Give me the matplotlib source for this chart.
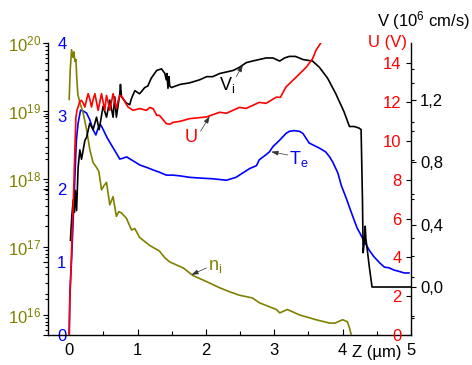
import numpy as np
import matplotlib
matplotlib.use('Agg')
import matplotlib.pyplot as plt
from matplotlib.ticker import FixedLocator, NullFormatter, LogLocator

plt.rcParams['font.family'] = ['Liberation Sans', 'DejaVu Sans']
plt.rcParams['mathtext.fontset'] = 'custom'
plt.rcParams['mathtext.rm'] = 'Liberation Sans'
plt.rcParams['mathtext.it'] = 'Liberation Sans:italic'
plt.rcParams['font.size'] = 12

OLIVE = '#808000'
BLUE = '#0000ff'
RED = '#ff0000'
BLACK = '#000000'

# ---- electron temperature Te (left inner axis, 0..4) ----
te_z = [0.0, 0.01, 0.035, 0.06, 0.076, 0.105, 0.13, 0.166, 0.205, 0.254, 0.30, 0.35,
        0.39, 0.425, 0.46, 0.50, 0.55, 0.594, 0.69, 0.74, 0.78, 0.84, 0.91, 0.98,
        1.03, 1.15, 1.23, 1.32, 1.42, 1.52, 1.62, 1.76, 1.91, 2.10, 2.30, 2.44,
        2.54, 2.64, 2.74, 2.78, 2.88, 2.93, 2.98, 3.08, 3.17, 3.22, 3.29, 3.37,
        3.42, 3.51, 3.66, 3.75, 3.81, 3.86, 3.93, 3.98, 4.05, 4.15, 4.21, 4.29,
        4.39, 4.46, 4.54, 4.61, 4.68, 4.75, 4.83, 4.90, 4.97]
te_val = [0.0, 0.58, 1.03, 1.62, 1.99, 2.67, 2.90, 3.08, 3.07, 3.04, 2.95, 2.81,
          2.74, 2.84, 2.88, 2.81, 2.71, 2.64, 2.49, 2.41, 2.42, 2.44, 2.40, 2.36,
          2.33, 2.29, 2.26, 2.23, 2.19, 2.19, 2.18, 2.16, 2.15, 2.14, 2.12, 2.16,
          2.22, 2.28, 2.32, 2.40, 2.47, 2.51, 2.58, 2.67, 2.76, 2.79, 2.80, 2.79,
          2.76, 2.63, 2.56, 2.51, 2.44, 2.36, 2.22, 2.05, 1.88, 1.62, 1.47, 1.33,
          1.16, 1.07, 0.99, 0.93, 0.92, 0.89, 0.87, 0.85, 0.85]

# ---- ion density ni (left outer log axis), stored as log10(ni) ----
ni_z = [0.0, 0.015, 0.035, 0.054, 0.069, 0.083, 0.098, 0.112, 0.127, 0.166, 0.20,
        0.254, 0.302, 0.35, 0.40, 0.434, 0.473, 0.507, 0.546, 0.594, 0.642, 0.69,
        0.726, 0.765, 0.838, 0.911, 0.96, 1.03, 1.18, 1.32, 1.40, 1.47, 1.67, 1.81,
        2.01, 2.20, 2.35, 2.49, 2.68, 2.78, 2.93, 3.03, 3.08, 3.19, 3.37, 3.61,
        3.81, 3.89, 4.00, 4.07, 4.10, 4.13]
ni_log10 = [19.17, 19.61, 19.90, 19.79, 19.87, 19.73, 19.76, 19.46, 19.24, 19.09,
            18.99, 18.73, 18.43, 18.24, 18.17, 18.11, 17.84, 17.90, 17.95, 17.62,
            17.74, 17.45, 17.52, 17.50, 17.42, 17.25, 17.27, 17.14, 17.02, 16.94,
            16.84, 16.78, 16.69, 16.58, 16.49, 16.40, 16.34, 16.29, 16.25, 16.18,
            16.12, 16.08, 16.03, 16.08, 16.00, 15.93, 15.88, 15.88, 15.93, 15.90,
            15.81, 15.69]

# ---- potential U (right inner axis, volts) ----
u_z = [0.0, 0.01, 0.035, 0.069, 0.083, 0.098, 0.115, 0.131, 0.155, 0.18, 0.205,
       0.229, 0.253, 0.277, 0.302, 0.327, 0.351, 0.375, 0.40, 0.423, 0.448, 0.473,
       0.497, 0.521, 0.534, 0.546, 0.57, 0.594, 0.618, 0.642, 0.666, 0.69, 0.715,
       0.74, 0.765, 0.788, 0.825, 0.861,
       0.934, 1.03, 1.13, 1.18, 1.23, 1.28, 1.32, 1.42, 1.47, 1.52, 1.62, 1.76,
       2.01, 2.20, 2.30, 2.49, 2.59, 2.78, 2.88, 3.03, 3.09, 3.17, 3.32, 3.47,
       3.56, 3.61, 3.68]
u_val = [0.0, 1.8, 4.37, 7.82, 9.52, 11.2, 11.6, 11.75, 12.05, 12.09, 11.95,
         11.75, 12.1, 12.44, 12.15, 11.75, 12.15, 12.44, 12.0, 11.58, 12.0, 12.44,
         12.0, 11.58, 12.0, 12.35, 12.0, 11.58, 12.0, 12.44, 12.05, 11.67, 12.05,
         12.35, 12.3, 12.20, 11.95, 11.75,
         11.58, 11.67, 11.58, 11.73, 11.66, 11.32, 11.32, 10.90, 10.86,
         10.96, 11.01, 11.15, 11.24, 11.48, 11.43, 11.73, 11.68, 11.99, 11.94,
         12.26, 12.25, 12.78, 13.29, 13.81, 14.24, 14.67, 15.05]

# ---- ion velocity Vi (right outer axis, 10^6 cm/s) ----
v_z = [0.018, 0.039, 0.06, 0.076, 0.09, 0.108, 0.131, 0.156, 0.18, 0.205, 0.229,
       0.254, 0.30, 0.35, 0.40, 0.438, 0.496, 0.546, 0.594, 0.642, 0.667, 0.69,
       0.74, 0.75, 0.765, 0.838, 0.886, 0.911, 0.96, 1.03, 1.105, 1.15, 1.20,
       1.28, 1.35, 1.40, 1.42, 1.43, 1.445, 1.46, 1.47, 1.495, 1.62, 1.76, 1.91,
       2.01, 2.10, 2.20, 2.30, 2.40, 2.49, 2.59, 2.68, 2.78, 2.88, 2.98, 3.08,
       3.15, 3.22, 3.31, 3.42, 3.56, 3.66, 3.78, 3.90, 4.02, 4.10, 4.17, 4.24,
       4.27, 4.29, 4.30, 4.32, 4.33, 4.34, 4.36, 4.39, 4.43, 4.99]
v_val = [0.30, 0.46, 0.56, 0.48, 0.62, 0.49, 0.77, 0.88, 0.82, 0.88, 0.94, 0.96,
         1.05, 1.01, 1.09, 1.01, 1.16, 1.09, 1.20, 1.09, 1.22, 1.09, 1.24, 1.30,
         1.22, 1.18, 1.17, 1.21, 1.26, 1.24, 1.28, 1.29, 1.34, 1.39, 1.40, 1.37,
         1.33, 1.37, 1.275, 1.35, 1.29, 1.28, 1.30, 1.31, 1.33, 1.35, 1.35, 1.37,
         1.38, 1.39, 1.41, 1.44, 1.45, 1.46, 1.47, 1.47, 1.45, 1.47, 1.48, 1.48,
         1.46, 1.45, 1.41, 1.34, 1.24, 1.125, 1.03, 1.03, 1.02, 1.01, 0.56, 0.22,
         0.30, 0.39, 0.31, 0.24, 0.13, 0.0, 0.0]

# ---- axis ticks ----
z_ticks = [0, 1, 2, 3, 4, 5]
z_labels = ['0', '1', '2', '3', '4', '5']
te_ticks = [0, 1, 2, 3, 4]
te_labels = ['0', '1', '2', '3', '4']
ni_ticks = [1e16, 1e17, 1e18, 1e19, 1e20]
ni_labels = [r'$\mathregular{10^{16}}$', r'$\mathregular{10^{17}}$',
             r'$\mathregular{10^{18}}$', r'$\mathregular{10^{19}}$',
             r'$\mathregular{10^{20}}$']
u_ticks = [0, 2, 4, 6, 8, 10, 12, 14]
u_labels = ['0', '2', '4', '6', '8', '10', '12', '14']
v_ticks = [0.0, 0.4, 0.8, 1.2]
v_labels = ['0,0', '0,4', '0,8', '1,2']

W, H = 472, 365
fig = plt.figure(figsize=(W / 100, H / 100), dpi=100)
L, R, B, T = 48, 411, 335, 43
axT = fig.add_axes([L / W, 1 - B / H, (R - L) / W, (B - T) / H])
axN = axT.twinx()
axV = axT.twinx()
axU = axT.twinx()

for a in (axN, axV, axU):
    for s in a.spines.values():
        s.set_visible(False)
axT.spines['top'].set_visible(False)
for s in ('left', 'right', 'bottom'):
    axT.spines[s].set_linewidth(1.0)

LW = 1.2
axT.plot(te_z, te_val, color=BLUE, lw=LW)
axN.plot(ni_z, 10 ** np.array(ni_log10), color=OLIVE, lw=LW)
axV.plot(v_z, v_val, color=BLACK, lw=LW)
axU.plot(u_z, u_val, color=RED, lw=LW)

# x axis
axT.set_xlim(-0.31, 5.0)
axT.xaxis.set_major_locator(FixedLocator(z_ticks))
axT.set_xticklabels(z_labels)
axT.xaxis.set_minor_locator(FixedLocator([0.5, 1.5, 2.5, 3.5, 4.5]))
axT.tick_params(axis='x', which='major', direction='in', length=4.5, width=0.8, pad=6)
axT.tick_params(axis='x', which='minor', direction='in', length=3, width=0.8)

# Te axis: labels inside the frame
axT.set_ylim(0, 4)
axT.yaxis.set_major_locator(FixedLocator(te_ticks))
axT.set_yticklabels(te_labels)
axT.yaxis.set_minor_locator(FixedLocator([0.5, 1.5, 2.5, 3.5]))
axT.tick_params(axis='y', which='major', direction='out', length=3.6, width=0.8,
                pad=-10.2, labelcolor=BLUE)
axT.tick_params(axis='y', which='minor', direction='out', length=2.4, width=0.8)
for lab in axT.get_yticklabels():
    lab.set_horizontalalignment('left')

# ni axis (log), on the left spine
axN.set_yscale('log')
axN.set_ylim(10 ** 15.705, 1e20)
axN.yaxis.set_ticks_position('left')
axN.yaxis.set_label_position('left')
axN.yaxis.set_major_locator(FixedLocator(ni_ticks))
axN.set_yticklabels(ni_labels)
axN.yaxis.set_minor_locator(LogLocator(base=10, subs=np.arange(2, 10)))
axN.yaxis.set_minor_formatter(NullFormatter())
axN.tick_params(axis='y', which='major', direction='out', length=3.6, width=0.8,
                pad=1.5, labelcolor=OLIVE)
axN.tick_params(axis='y', which='minor', direction='out', length=2.2, width=0.8)

# U axis: labels inside the frame on the right
axU.set_ylim(0, 15.05)
axU.yaxis.set_major_locator(FixedLocator(u_ticks))
axU.set_yticklabels(u_labels)
axU.yaxis.set_minor_locator(FixedLocator([1, 3, 5, 7, 9, 11, 13]))
axU.tick_params(axis='y', which='major', direction='in', length=3.6, width=0.8,
                pad=-6.8, labelcolor=RED)
axU.tick_params(axis='y', which='minor', direction='out', length=2.4, width=0.8)
for lab in axU.get_yticklabels():
    lab.set_horizontalalignment('right')

# V axis: labels outside on the right
axV.set_ylim(-0.308, 1.566)
axV.yaxis.set_major_locator(FixedLocator(v_ticks))
axV.set_yticklabels(v_labels)
axV.yaxis.set_minor_locator(FixedLocator([-0.2, 0.2, 0.6, 1.0, 1.4]))
axV.tick_params(axis='y', which='major', direction='out', length=3.6, width=0.8, pad=3)
axV.tick_params(axis='y', which='minor', direction='out', length=2.4, width=0.8)

# axis titles
fig.text(470 / W, 1 - 21 / H, r'V (10$^{\mathregular{6}}$ cm/s)', ha='right', va='center')
fig.text(407 / W, 1 - 42.5 / H, 'U (V)', ha='right', va='center', color=RED)
fig.text(402 / W, 1 - 353 / H, 'Z (µm)', ha='right', va='center')

# curve labels with pointer arrows
arrow = dict(arrowstyle='-|>,head_length=0.35,head_width=0.12', color='#333333',
             lw=0.5, shrinkA=0, shrinkB=0)
axV.annotate('', xy=(2.54, 1.425), xytext=(2.444, 1.35), arrowprops=arrow)
axV.text(2.186, 1.264, r'V$_{\mathregular{i}}$', ha='left', va='baseline', color=BLACK, fontsize=13)
axU.annotate('', xy=(2.055, 11.27), xytext=(1.923, 10.51), arrowprops=arrow)
axU.text(1.689, 9.93, 'U', ha='left', va='baseline', color=RED, fontsize=13)
axT.annotate('', xy=(2.955, 2.51), xytext=(3.197, 2.466), arrowprops=arrow)
axT.text(3.222, 2.342, r'T$_{\mathregular{e}}$', ha='left', va='baseline', color=BLUE, fontsize=13)
axN.annotate('', xy=(1.787, 10 ** 16.59), xytext=(2.006, 10 ** 16.69), arrowprops=arrow)
axN.text(2.025, 10 ** 16.664, r'n$_{\mathregular{i}}$', ha='left', va='baseline', color=OLIVE, fontsize=13)

fig.savefig('out.png', dpi=100)
